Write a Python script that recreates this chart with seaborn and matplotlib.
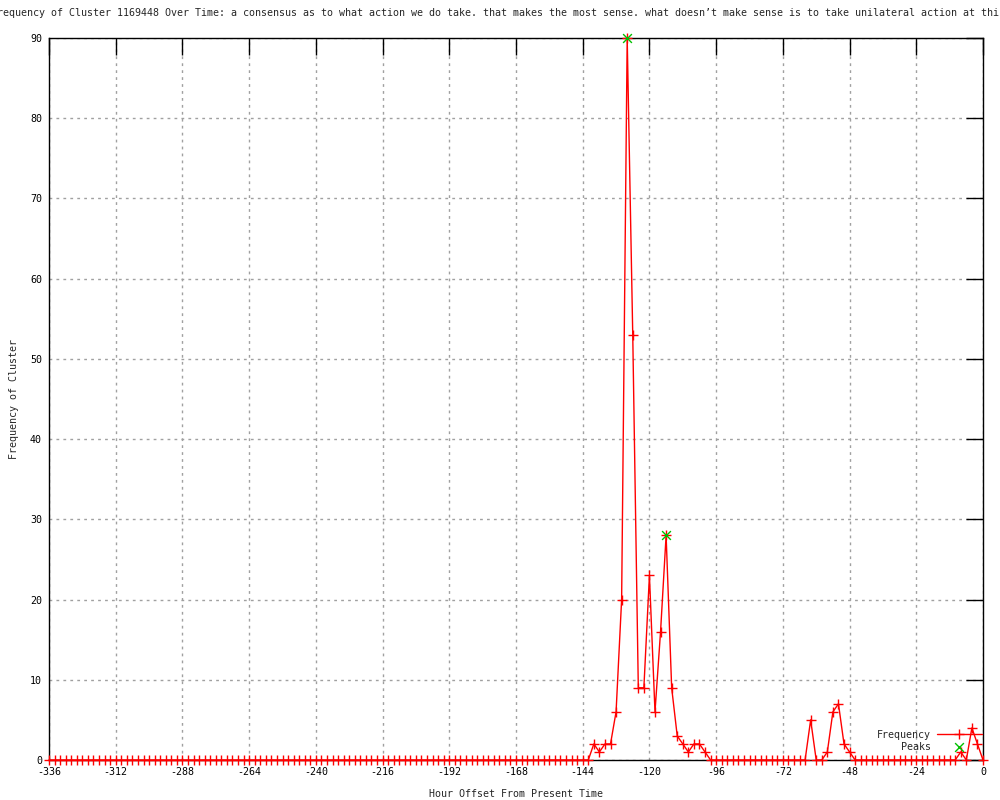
import numpy as np
import pandas as pd
import matplotlib
matplotlib.use("Agg")
import matplotlib.pyplot as plt
import seaborn as sns

# Hour offsets (every 2 hours over the last two weeks)
hours = list(range(-336, 1, 2))

# Frequency per 2-hour bin
freq = ([0] * 98
        + [2, 1, 2, 2, 6, 20, 90, 53, 9, 9, 23, 6, 16, 28, 9, 3, 2, 1, 2, 2, 1, 0]  # -140 .. -98
        + [0] * 17                                                               # -96 .. -64
        + [5, 0, 0, 1, 6, 7, 2, 1]                                               # -62 .. -48
        + [0] * 19                                                               # -46 .. -10
        + [1, 0, 4, 2, 0])                                                       # -8 .. 0

peak_hours = [-128, -114]
peak_freq = [90, 28]

title = ("Frequency of Cluster 1169448 Over Time: a consensus as to what action we do take. "
         "that makes the most sense. what doesn\u2019t make sense is to take unilateral action at this time.")

df = pd.DataFrame({"hour": hours, "freq": freq})
peaks = pd.DataFrame({"hour": peak_hours, "freq": peak_freq})

sns.set_style("white")
plt.rcParams["font.family"] = ["DejaVu Sans Mono"]
plt.rcParams["axes.unicode_minus"] = False
fs = 7.2

fig = plt.figure(figsize=(10, 8), dpi=100)
ax = fig.add_axes([0.049, 0.05, 0.934, 0.9025])

sns.lineplot(data=df, x="hour", y="freq", ax=ax, color="red", lw=1,
             marker="+", markersize=7, markeredgewidth=1, markeredgecolor="red",
             label="Frequency", clip_on=False, zorder=3)
sns.scatterplot(data=peaks, x="hour", y="freq", ax=ax, marker="x", color="#00c000",
                s=40, linewidth=1, label="Peaks", clip_on=False, zorder=4)

ax.set_xlim(-336, 0)
ax.set_ylim(0, 90)
ax.set_xticks(range(-336, 1, 24))
ax.set_yticks(range(0, 91, 10))
ax.grid(True, color="#a0a0a0", linestyle=(0, (2, 3)), lw=1)
ax.tick_params(direction="in", length=12, width=1, top=True, right=True,
               labelsize=fs, colors="black", pad=5)
for s in ax.spines.values():
    s.set_color("black")
    s.set_linewidth(1)

ax.set_xlabel("Hour Offset From Present Time", fontsize=fs, labelpad=9)
ax.set_ylabel("Frequency of Cluster", fontsize=fs, labelpad=8)

fig.text(0.516, 1 - 13 / 800, title, ha="center", va="center", fontsize=fs)

leg = ax.legend(loc="lower right", bbox_to_anchor=(1.003, 0.006), frameon=False,
                markerfirst=False, fontsize=fs, handlelength=4.5, handletextpad=0.6,
                labelspacing=0.2, borderaxespad=0, numpoints=1)

plt.savefig("out.png", dpi=100)
